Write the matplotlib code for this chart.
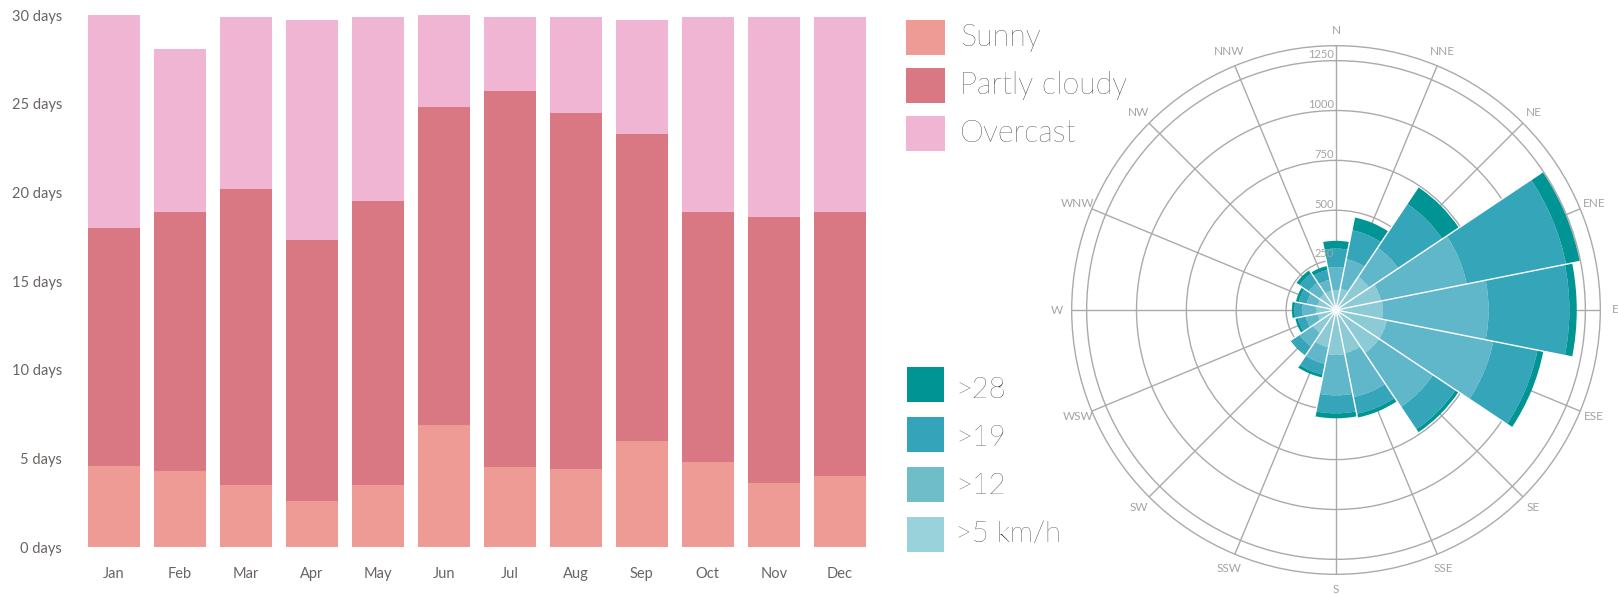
import numpy as np
import matplotlib
matplotlib.use("Agg")
import matplotlib.pyplot as plt
from matplotlib.patches import Rectangle

# ---- monthly sky conditions (days) ----
months = ["Jan", "Feb", "Mar", "Apr", "May", "Jun",
          "Jul", "Aug", "Sep", "Oct", "Nov", "Dec"]
sunny = [4.6, 4.3, 3.5, 2.6, 3.5, 6.9, 4.5, 4.4, 6.0, 4.8, 3.6, 4.0]
partly_cloudy = [13.4, 14.6, 16.7, 14.7, 16.0, 17.9, 21.2, 20.1, 17.3, 14.1, 15.0, 14.9]
overcast = [12.0, 9.2, 9.7, 12.4, 10.4, 5.2, 4.2, 5.4, 6.4, 11.0, 11.3, 11.0]
sky_names = ["Sunny", "Partly cloudy", "Overcast"]
sky_colors = ["#ee9a95", "#d97882", "#efb5d3"]
day_ticks = [0, 5, 10, 15, 20, 25, 30]
day_labels = [f"{d} days" for d in day_ticks]

# ---- wind rose (hours per direction, stacked by speed class) ----
directions = ["N", "NNE", "NE", "ENE", "E", "ESE", "SE", "SSE",
              "S", "SSW", "SW", "WSW", "W", "WNW", "NW", "NNW"]
speed_gt5 = [100, 110, 200, 230, 234, 260, 260, 220, 225, 190, 140, 95, 98, 95, 100, 100]
speed_gt12 = [115, 150, 175, 438, 531, 544, 325, 225, 203, 85, 81, 60, 70, 55, 65, 55]
speed_gt19 = [93, 148, 266, 508, 405, 226, 136, 85, 90, 55, 48, 40, 40, 40, 55, 50]
speed_gt28 = [39, 65, 100, 70, 37, 30, 18, 20, 25, 15, 5, 13, 13, 15, 20, 20]
speed_names = [">5 km/h", ">12", ">19", ">28"]
speed_colors = ["#8ccad6", "#60b7c9", "#35a5ba", "#009494"]
speed_swatch = ["#9ad2dc", "#70bdca", "#33a4b9", "#009494"]
rose_ticks = [250, 500, 750, 1000, 1250]

W, H = 1618, 594
FONT = ["Lato", "DejaVu Sans"]
plt.rcParams["font.family"] = FONT

fig = plt.figure(figsize=(W / 100, H / 100), dpi=100)
fig.patch.set_facecolor("white")

# ---------------- stacked column chart ----------------
ax = fig.add_axes([80.7 / W, 46.7 / H, 792.1 / W, 532.3 / H])
x = np.arange(len(months))
bottom = np.zeros(len(months))
for vals, col in zip([sunny, partly_cloudy, overcast], sky_colors):
    ax.bar(x, vals, width=0.79, bottom=bottom, color=col, linewidth=0)
    bottom += np.array(vals)
ax.set_xlim(-0.5, len(months) - 0.5)
ax.set_ylim(0, 30)
ax.set_yticks(day_ticks, day_labels)
ax.set_xticks(x, months)
for s in ax.spines.values():
    s.set_visible(False)
ax.tick_params(axis="y", length=0, pad=13.5, labelsize=10.5, labelcolor="#6a6562")
ax.tick_params(axis="x", length=0, pad=14, labelsize=10.5, labelcolor="#6a6562")


def px_rect(x0, y_center, w, h, color):
    fig.add_artist(Rectangle((x0 / W, 1 - (y_center + h / 2) / H), w / W, h / H,
                             transform=fig.transFigure, color=color, lw=0))


def px_text(x0, y_base, s, size):
    fig.text(x0 / W, 1 - y_base / H, s, ha="left", va="baseline",
             fontsize=size, color="#000000", fontweight="light")


# legend for sky conditions
for i, (name, col) in enumerate(zip(sky_names, sky_colors)):
    px_rect(906, 37.2 + 48 * i, 39, 35, col)
    px_text(960, 46 + 48 * i, name, 22)

# legend for wind speed classes (strongest first)
for i, idx in enumerate(range(len(speed_names) - 1, -1, -1)):
    px_rect(907, 384.5 + 50 * i, 37, 35, speed_swatch[idx])
    px_text(955, 398 + 48 * i, speed_names[idx], 21)

# ---------------- wind rose ----------------
cx, cy, R = 1336, 310, 264.3
rmax = 1325
pax = fig.add_axes([(cx - R) / W, (H - cy - R) / H, 2 * R / W, 2 * R / H],
                   projection="polar")
pax.set_theta_zero_location("N")
pax.set_theta_direction(-1)
pax.set_ylim(0, rmax)
n = len(directions)
theta = np.deg2rad(np.arange(n) * 360 / n)
width = 2 * np.pi / n
pax.set_axisbelow(True)
pax.set_rgrids(rose_ticks, labels=[""] * len(rose_ticks))
pax.set_thetagrids(np.arange(n) * 360 / n, labels=[""] * n)
pax.grid(color="#aaaaaa", lw=1.0)
pax.spines["polar"].set_color("#aaaaaa")
pax.spines["polar"].set_linewidth(1.0)

base = np.zeros(n)
for vals, col in zip([speed_gt5, speed_gt12, speed_gt19, speed_gt28], speed_colors):
    pax.bar(theta, vals, width=width, bottom=base, color=col, linewidth=0,
            align="center", zorder=2)
    base += np.array(vals)

# thin white separators between adjacent directions
for i in range(n):
    edge = theta[i] + width / 2
    reach = max(base[i], base[(i + 1) % n])
    pax.plot([edge, edge], [0, reach], color="white", lw=1.0, zorder=3,
             solid_capstyle="butt")

for t, name in zip(theta, directions):
    pax.text(t, 1400, name, ha="center", va="center", fontsize=8.5,
             color="#a3a3a3", clip_on=False)

for v in rose_ticks:
    pax.annotate(str(v), xy=(0, v), xytext=(-1.5, 4.5), textcoords="offset points",
                 ha="right", va="center", fontsize=8, color="#a3a3a3")

fig.savefig("out.png", dpi=100, facecolor="white")
